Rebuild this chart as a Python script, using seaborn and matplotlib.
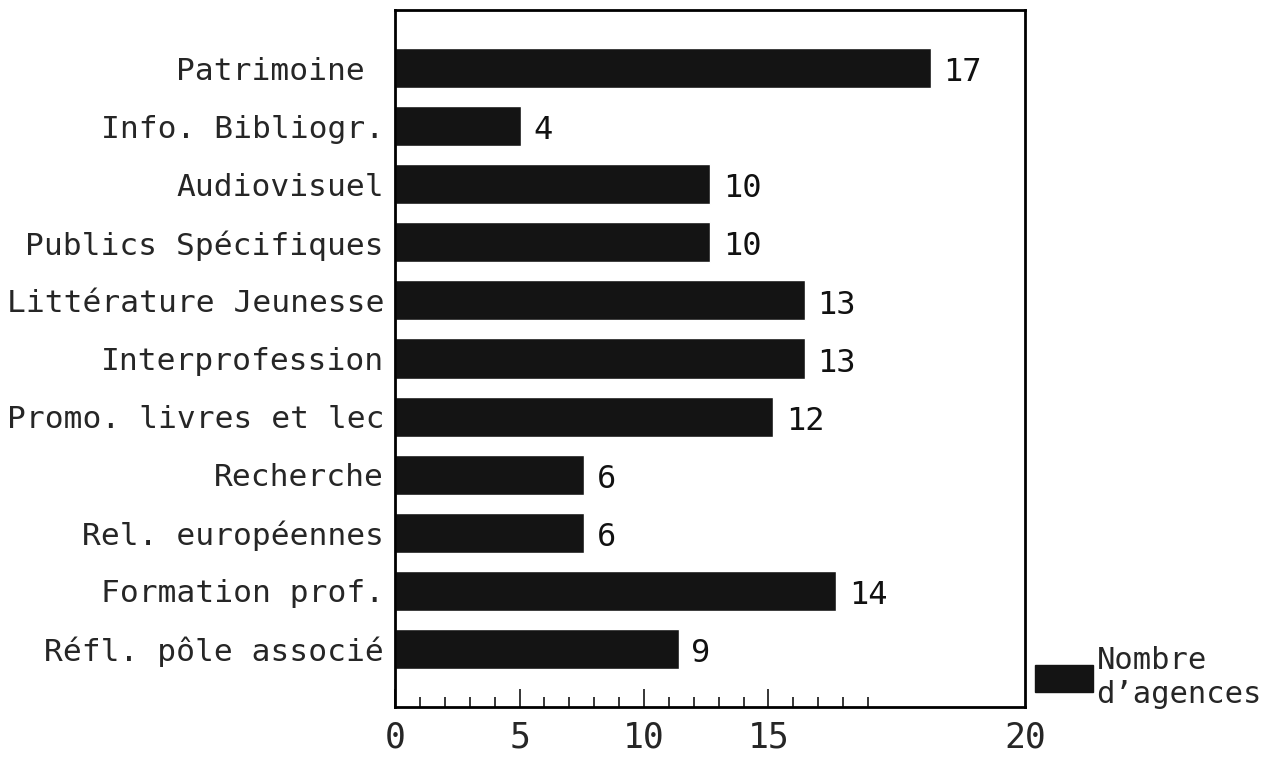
import matplotlib
matplotlib.use("Agg")
import matplotlib.pyplot as plt
import seaborn as sns
import pandas as pd
from matplotlib.patches import Patch

sns.set_style("white")
plt.rcParams['font.family'] = ['DejaVu Sans Mono', 'DejaVu Sans']

# data
categories = ["Patrimoine ", "Info. Bibliogr.", "Audiovisuel", "Publics Spécifiques",
              "Littérature Jeunesse", "Interprofession", "Promo. livres et lec",
              "Recherche", "Rel. européennes", "Formation prof.", "Réfl. pôle associé"]
values = [17, 4, 10, 10, 13, 13, 12, 6, 6, 14, 9]
tick_labels = ["0", "5", "10", "15", "20"]

df = pd.DataFrame({"cat": categories, "val": values})

fig = plt.figure(figsize=(12.83, 7.66), dpi=100)
ax = fig.add_axes([0.308, 0.077, 0.491, 0.910])

bar_color = "#141414"
sns.barplot(data=df, x="val", y="cat", orient="h", color=bar_color,
            width=0.69, saturation=1, ax=ax)

for i, v in enumerate(values):
    ax.text(v + 0.4, i + 0.08, str(v), va="center", ha="left", fontsize=23,
            color="#111111")

ax.set_xlim(0, 20)
ax.set_ylim(11, -1)

# the original axis ticks run on a shorter scale than the bars (old plotting software)
f = 0.79
ax.set_xticks([0, 5 * f, 10 * f, 15 * f, 20])
ax.set_xticklabels(tick_labels)
ax.set_xticks([i * f for i in range(1, 20) if i % 5], minor=True)
ax.tick_params(axis="x", which="major", direction="in", length=13, width=1.3,
               labelsize=25, pad=10, bottom=True, top=False)
ax.tick_params(axis="x", which="minor", direction="in", length=7, width=1.3,
               bottom=True, top=False)
ax.get_xticklines()[-2].set_visible(False)
ax.tick_params(axis="y", length=0, labelsize=22.5, pad=8)
ax.set_xlabel("")
ax.set_ylabel("")

for s in ax.spines.values():
    s.set_visible(True)
    s.set_color("black")
    s.set_linewidth(2)

fig.legend(handles=[Patch(color=bar_color)], labels=["Nombre\nd\u2019agences"],
           loc="lower left", bbox_to_anchor=(0.807, 0.075), frameon=False,
           fontsize=22, handlelength=1.9, handleheight=1.0, handletextpad=0.1,
           borderaxespad=0, borderpad=0, labelspacing=0)

fig.savefig("out.png", dpi=100)
